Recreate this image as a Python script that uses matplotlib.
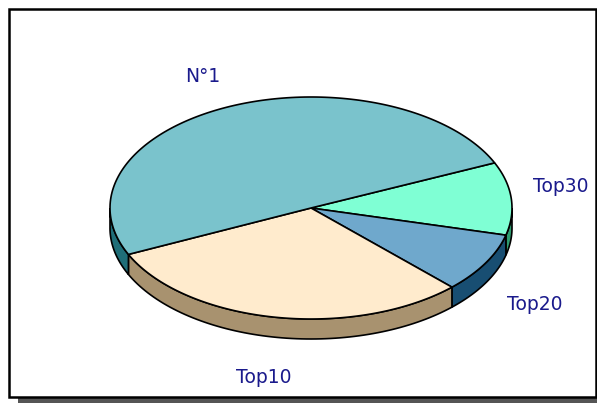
import numpy as np
from matplotlib import pyplot as plt
from matplotlib.patches import Polygon, Rectangle

# slice data, clockwise starting from 24 deg
labels = ['Top30', 'Top20', 'Top10', 'N°1']
values = [10.6, 8.7, 30.5, 50.2]
top_colors = ['#7fffd4', '#6fa8cc', '#ffebcd', '#7ac3cc']
side_colors = ['#2e9d70', '#184e72', '#a8926f', '#1f6e78']
start_angle = 24.0

W, H = 597, 403
cx, cy = 311, 208
rx, ry = 201, 111
depth = 20
label_nudge = [(-11, -9), (-3, 1), (0, 4), (0, 0)]

fig = plt.figure(figsize=(W / 100, H / 100), dpi=100)
ax = fig.add_axes([0, 0, 1, 1])
ax.set_xlim(0, W)
ax.set_ylim(H, 0)
ax.axis('off')

# frame + shadow
ax.add_patch(Rectangle((18, 397), W - 18, 6, color='#555555', lw=0, zorder=0))
ax.add_patch(Rectangle((595.5, 14), 1.5, 383, color='#aaaaaa', lw=0, zorder=0))
ax.add_patch(Rectangle((9, 9), 587, 388, fill=False, ec='black', lw=1.8, zorder=5))


def pt(a, dy=0):
    a = np.radians(a)
    return cx + rx * np.cos(a), cy - ry * np.sin(a) + dy


total = sum(values)
angles = [start_angle]
for v in values:
    angles.append(angles[-1] - v / total * 360)

# sides: only the front half (-180..0 deg, wrapped) is visible
for i in range(len(values)):
    hi, lo = angles[i], angles[i + 1]
    for shift in (0, 360):
        a_hi = min(hi + shift, 0)
        a_lo = max(lo + shift, -180)
        if a_hi <= a_lo:
            continue
        t = np.linspace(a_lo, a_hi, 80)
        top = [pt(a) for a in t]
        bot = [pt(a, depth) for a in t[::-1]]
        ax.add_patch(Polygon(top + bot, closed=True, fc=side_colors[i],
                             ec='black', lw=1.2, zorder=2))

# tops
for i in range(len(values)):
    t = np.linspace(angles[i + 1], angles[i], 150)
    pts = [(cx, cy)] + [pt(a) for a in t]
    ax.add_patch(Polygon(pts, closed=True, fc=top_colors[i], ec='black',
                         lw=1.2, zorder=3))

# labels
for i, lab in enumerate(labels):
    mid = np.radians((angles[i] + angles[i + 1]) / 2)
    x = cx + 1.3 * rx * np.cos(mid) + label_nudge[i][0]
    y = cy - 1.3 * ry * np.sin(mid) + label_nudge[i][1]
    if np.sin(mid) < 0:
        y += depth * 1.2
    ax.text(x, y, lab, color='#1a1a8c', fontsize=13.5, ha='center',
            va='center', zorder=4)

fig.savefig('out.png', dpi=100)
